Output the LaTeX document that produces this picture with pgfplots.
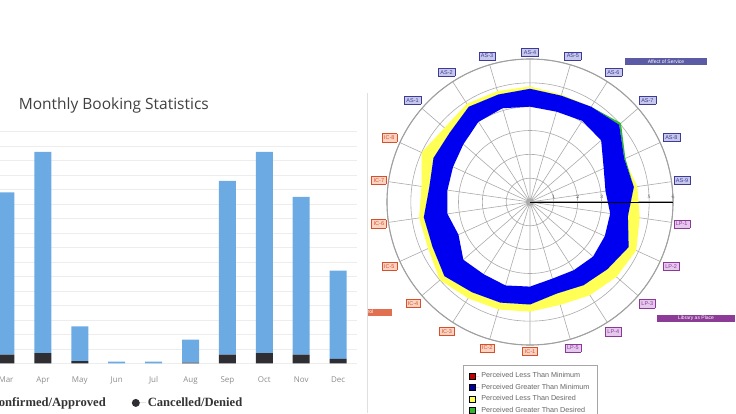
\documentclass[border=0pt]{standalone}
\usepackage{pgfplots}
\pgfplotsset{compat=1.18}
\usepackage{pgfplotstable}
\usepgfplotslibrary{polar}
\usepackage{fontspec}
\setmainfont{Open Sans}
\newfontfamily\legfont{Liberation Serif}
\newfontfamily\smallsans{Liberation Sans}

\definecolor{confc}{HTML}{6CAAE4}
\definecolor{cancc}{HTML}{2E2E33}
\definecolor{gridc}{HTML}{EDEDED}
\definecolor{pblue}{HTML}{0000F0}
\definecolor{pyellow}{HTML}{FFFF55}
\definecolor{pgreen}{HTML}{2DB82D}
\definecolor{pgrid}{HTML}{AAAAAA}
\definecolor{pcirc}{HTML}{A0A0A0}
\definecolor{asF}{HTML}{C8C8EC}
\definecolor{asT}{HTML}{3C3C96}
\definecolor{icF}{HTML}{FBD3C3}
\definecolor{icT}{HTML}{D8502A}
\definecolor{lpF}{HTML}{E6C8EE}
\definecolor{lpT}{HTML}{8A3A96}
\definecolor{hAS}{HTML}{5A5AA5}
\definecolor{hIC}{HTML}{E07050}
\definecolor{hLP}{HTML}{8C3C96}

% spoke label boxes (protected: tick labels get expanded)
\protected\def\labbox#1#2#3{{\fboxsep=2pt\fboxrule=0.4pt\fcolorbox{#1}{#2}{\textcolor{#1}{#3}}}}
\protected\def\asl#1{\labbox{asT}{asF}{#1}}
\protected\def\icl#1{\labbox{icT}{icF}{#1}}
\protected\def\lpl#1{\labbox{lpT}{lpF}{#1}}

% monthly bookings, Mar..Dec
\pgfplotstableread{
m conf canc
0 112 6
1 139 7
2 24  1.5
3 1.1 0
4 1.1 0
5 16  0.4
6 120 6
7 139 7
8 109 6
9 61  3
}\bookings

% rings: outer loop clockwise, then inner loop back
% blue = minimum..perceived, yel = perceived..desired, grn = desired..perceived
\pgfplotstableread{
a        blue  yel   grn
90       4.75  4.85  4.75
73.636   4.65  4.70  4.65
57.273   4.75  4.75  4.75
40.909   4.95  4.95  5.05
24.545   4.35  4.35  4.40
8.182    4.40  4.55  4.40
-8.182   4.15  4.65  4.15
-24.545  4.55  4.90  4.55
-40.909  4.30  4.80  4.30
-57.273  4.15  4.65  4.15
-73.636  4.00  4.50  4.00
-90      4.30  4.60  4.30
-106.364 4.40  4.70  4.40
-122.727 4.50  4.80  4.50
-139.091 4.75  5.00  4.75
-155.455 4.50  4.70  4.50
-171.818 4.50  4.70  4.50
-188.182 4.27  4.60  4.27
-204.545 4.45  5.00  4.45
-220.909 4.45  4.75  4.45
-237.273 4.75  4.90  4.75
-253.636 4.70  4.85  4.70
-270     4.75  4.85  4.75
-270     4.00  4.75  4.75
-253.636 4.10  4.70  4.70
-237.273 4.00  4.75  4.75
-220.909 3.70  4.45  4.45
-204.545 3.55  4.45  4.45
-188.182 3.50  4.27  4.27
-171.818 3.50  4.50  4.50
-155.455 3.30  4.50  4.50
-139.091 3.70  4.75  4.75
-122.727 3.60  4.50  4.50
-106.364 3.65  4.40  4.40
-90      3.55  4.30  4.30
-73.636  3.35  4.00  4.00
-57.273  3.40  4.15  4.15
-40.909  3.50  4.30  4.30
-24.545  3.45  4.55  4.55
-8.182   3.40  4.15  4.15
8.182    3.20  4.40  4.40
24.545   3.40  4.35  4.35
40.909   3.95  4.95  4.95
57.273   4.05  4.75  4.75
73.636   3.95  4.65  4.65
90       4.00  4.75  4.75
}\rings

\begin{document}
\begin{tikzpicture}
\useasboundingbox (0pt,0pt) rectangle (736pt,413pt);
\clip (0pt,0pt) rectangle (736pt,413pt);

\begin{scope}
\clip (0pt,0pt) rectangle (366pt,413pt);
\begin{axis}[
  at={(6pt,49.7pt)}, anchor=origin,
  scale only axis, width=369pt, height=231.6pt,
  ybar stacked, bar width=17pt,
  xmin=-0.5, xmax=9.5, ymin=0, ymax=160,
  xtick={0,...,9},
  xticklabels={Mar,Apr,May,Jun,Jul,Aug,Sep,Oct,Nov,Dec},
  ytick={0,10,...,160}, yticklabels={},
  ymajorgrids, major grid style={draw=gridc, line width=0.6pt},
  axis line style={draw=none}, major tick length=0pt,
  xticklabel style={font=\fontsize{8}{8}\selectfont, text=black!45, yshift=-10pt},
  title={Monthly Booking Statistics},
  title style={at={(0.075,1.068)}, anchor=base west, font=\fontsize{15.5}{16}\selectfont, text=black!75},
  legend image code/.code={\fill[#1] (2pt,0pt) circle (4pt); \path (-2pt,0pt) -- (12pt,0pt);},
  reverse legend,
  legend columns=2,
  legend style={draw=none, fill=none, at={(0.7045,-0.171)}, anchor=east,
    font=\legfont\bfseries\fontsize{12.6}{13}\selectfont, text=black!80,
    /tikz/every even column/.append style={column sep=24pt}},
]
\addplot[fill=cancc, draw=none] table[x=m, y=canc] {\bookings};
\addlegendentry{Cancelled/Denied}
\addplot[fill=confc, draw=none] table[x=m, y=conf] {\bookings};
\addlegendentry{Confirmed/Approved}
\end{axis}
\end{scope}
\draw[black!12, line width=0.8pt] (367pt,0pt) -- (367pt,320pt);

\begin{scope}
\clip (368pt,0pt) rectangle (736pt,413pt);
\begin{polaraxis}[
  at={(530pt,211pt)}, anchor=center,
  scale only axis, width=286pt, height=286pt,
  ymin=0, ymax=6, ytick={1,...,6},
  xtick={8.182,24.545,40.909,57.273,73.636,90,106.364,122.727,139.091,155.455,171.818,188.182,204.545,220.909,237.273,253.636,270,286.364,302.727,319.091,335.455,351.818},
  xticklabels={\asl{AS-9},\asl{AS-8},\asl{AS-7},\asl{AS-6},\asl{AS-5},\asl{AS-4},\asl{AS-3},\asl{AS-2},\asl{AS-1},
    \icl{IC-8},\icl{IC-7},\icl{IC-6},\icl{IC-5},\icl{IC-4},\icl{IC-3},\icl{IC-2},\icl{IC-1},
    \lpl{LP-5},\lpl{LP-4},\lpl{LP-3},\lpl{LP-2},\lpl{LP-1}},
  grid=major, major grid style={draw=pgrid, line width=0.6pt},
  axis line style={draw=pcirc, line width=1.1pt},
  major tick length=0pt,
  yticklabel style={font=\fontsize{4.5}{4.5}\selectfont, text=black!70},
  xticklabel style={font=\smallsans\fontsize{5.5}{5.5}\selectfont, inner sep=2pt},
  legend image code/.code={\draw[#1] (0pt,-3pt) rectangle (6pt,3pt); \path (0pt,0pt) -- (10pt,0pt);},
  legend cell align=left,
  legend style={at={(0.2657,-0.0699)}, anchor=north west, draw=black!35, line width=0.4pt,
    font=\smallsans\fontsize{7.2}{7.5}\selectfont, text=black!60, row sep=0.8pt,
    inner xsep=6pt, inner ysep=5.5pt},
]
\addplot[fill=pyellow, draw=none, forget plot] table[x=a, y=yel] {\rings};
\addplot[fill=pgreen, draw=none, forget plot] table[x=a, y=grn] {\rings};
\addplot[fill=pblue, draw=none, forget plot] table[x=a, y=blue] {\rings};
\addplot[black, line width=0.8pt, forget plot] coordinates {(0,0) (0,6)};
\addlegendimage{fill=red!75!black, draw=none}
\addlegendentry{Perceived Less Than Minimum}
\addlegendimage{fill=blue!60!black, draw=none}
\addlegendentry{Perceived Greater Than Minimum}
\addlegendimage{fill=pyellow, draw=none}
\addlegendentry{Perceived Less Than Desired}
\addlegendimage{fill=pgreen, draw=none}
\addlegendentry{Perceived Greater Than Desired}
\end{polaraxis}
\node[fill=hAS, text=white, font=\smallsans\fontsize{5}{5}\selectfont, minimum width=82pt, minimum height=7pt, inner sep=0pt] at (666pt,351pt) {Affect of Service};
\node[fill=hLP, text=white, font=\smallsans\fontsize{5}{5}\selectfont, minimum width=78pt, minimum height=7pt, inner sep=0pt] at (696pt,95pt) {Library as Place};
\node[fill=hIC, text=white, font=\smallsans\fontsize{5}{5}\selectfont, minimum width=80pt, minimum height=7pt, inner sep=0pt] at (352pt,101pt) {Information Control};
\end{scope}
\end{tikzpicture}
\end{document}
